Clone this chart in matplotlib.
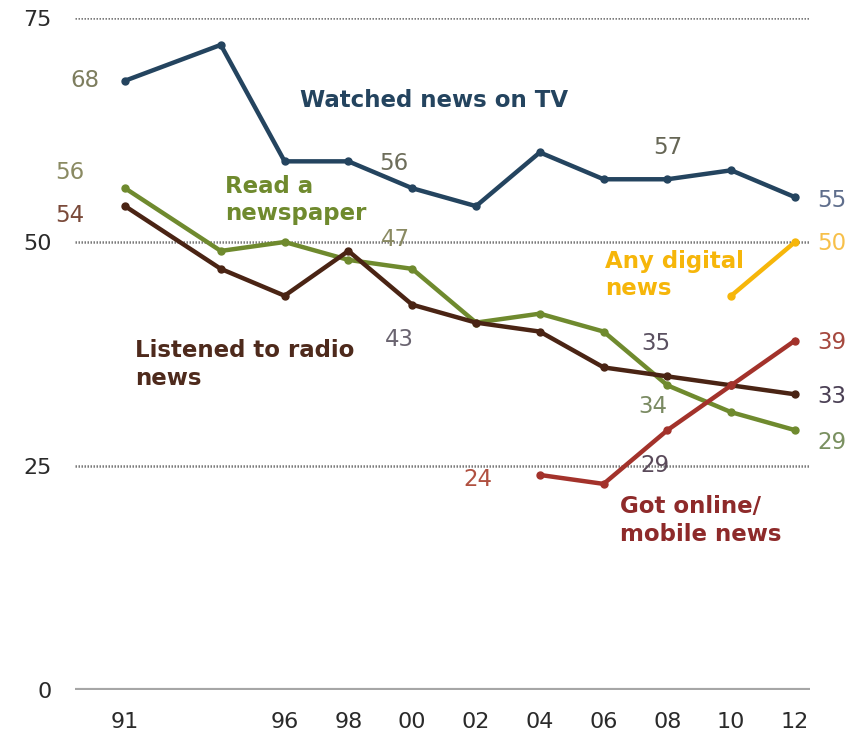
#!/usr/bin/python

import numpy as np
import matplotlib.pyplot as plt

plt.rcParams["font.family"] = ["DejaVu Sans"]

years = [1991, 1994, 1996, 1998, 2000, 2002, 2004, 2006, 2008, 2010, 2012]
tick_years = [1991, 1996, 1998, 2000, 2002, 2004, 2006, 2008, 2010, 2012]
tick_labels = ["91", "96", "98", "00", "02", "04", "06", "08", "10", "12"]

tv = [68, 72, 59, 59, 56, 54, 60, 57, 57, 58, 55]
paper = [56, 49, 50, 48, 47, 41, 42, 40, 34, 31, 29]
radio = [54, 47, 44, 49, 43, 41, 40, 36, 35, 34, 33]
digital_years = [2010, 2012]
digital = [44, 50]
online_years = [2004, 2006, 2008, 2010, 2012]
online = [24, 23, 29, 34, 39]

c_tv = "#24445f"
c_paper = "#6f8a2e"
c_radio = "#4a2414"
c_digital = "#f6b60a"
c_online = "#a3322b"


def main():
  fig = plt.figure(figsize=(8.61, 7.37), dpi=100)
  ax = fig.add_axes([0.0871, 0.0638, 0.8537, 0.9118])

  ax.set_xlim(1989.43, 2012.47)
  ax.set_ylim(0, 75)

  for s in ax.spines.values():
    s.set_visible(False)

  # grid lines
  for g in [25, 50, 75]:
    ax.axhline(g, color="#7a7a7a", lw=1.8, ls=(0, (0.6, 0.6)), zorder=1)
  ax.axhline(0, color="#a6a6a6", lw=3, zorder=1)

  kw = dict(lw=3.2, marker="o", ms=5, zorder=3, solid_joinstyle="miter")
  ax.plot(years, tv, color=c_tv, **kw)
  ax.plot(years, paper, color=c_paper, **kw)
  ax.plot(years, radio, color=c_radio, **kw)
  ax.plot(digital_years, digital, color=c_digital, **kw)
  ax.plot(online_years, online, color=c_online, **kw)

  ax.set_yticks([0, 25, 50, 75])
  ax.set_yticklabels(["0", "25", "50", "75"])
  ax.set_xticks(tick_years)
  ax.set_xticklabels(tick_labels)
  ax.tick_params(axis="both", length=0, labelsize=16, colors="#2a2a2a")
  ax.tick_params(axis="y", pad=17)
  ax.tick_params(axis="x", pad=16)

  # data labels: (x, y, dx, dy, color)
  lab = [
    (1991, tv[0], -40, 0, "#7d7d5e"),
    (1991, paper[0], -55, 16, "#8a8a62"),
    (1991, radio[0], -55, -9, "#7a4a3a"),
    (2000, tv[4], -18, 25, "#6d6d5a"),
    (2000, paper[4], -17, 29, "#8a8a62"),
    (2000, radio[4], -13, -35, "#6a6470"),
    (2008, tv[8], 0, 32, "#666655"),
    (2012, tv[10], 37, -3, "#5f6e8c"),
    (2012, digital[1], 37, -2, "#f7c04a"),
    (2012, online[4], 37, -2, "#a5483e"),
    (2012, radio[10], 37, -2, "#4b4055"),
    (2012, paper[10], 37, -12, "#7a9060"),
    (2008, radio[8], -12, 33, "#5a5060"),
    (2008, paper[8], -15, -21, "#7a8a62"),
    (2008, online[2], -12, -35, "#5a4a5a"),
    (2004, online[0], -62, -5, "#b05040"),
  ]
  for x, y, dx, dy, c in lab:
    ax.annotate(str(y), (x, y), xytext=(dx, dy), textcoords="offset pixels",
                ha="center", va="center", fontsize=16.5, color=c, zorder=4)

  # series names
  names = [
    (1996.49, 65.8, "Watched news on TV", c_tv),
    (1994.13, 54.7, "Read a\nnewspaper", c_paper),
    (1991.31, 36.3, "Listened to radio\nnews", "#4e2a1c"),
    (2006.05, 46.3, "Any digital\nnews", c_digital),
    (2006.5, 18.9, "Got online/\nmobile news", "#8e2a2a"),
  ]
  for x, y, t, c in names:
    ax.text(x, y, t, ha="left", va="center", fontsize=16.5,
            fontweight="bold", color=c, linespacing=1.25, zorder=4)

  fig.savefig("out.png", dpi=100)


if __name__ == "__main__":
  main()
